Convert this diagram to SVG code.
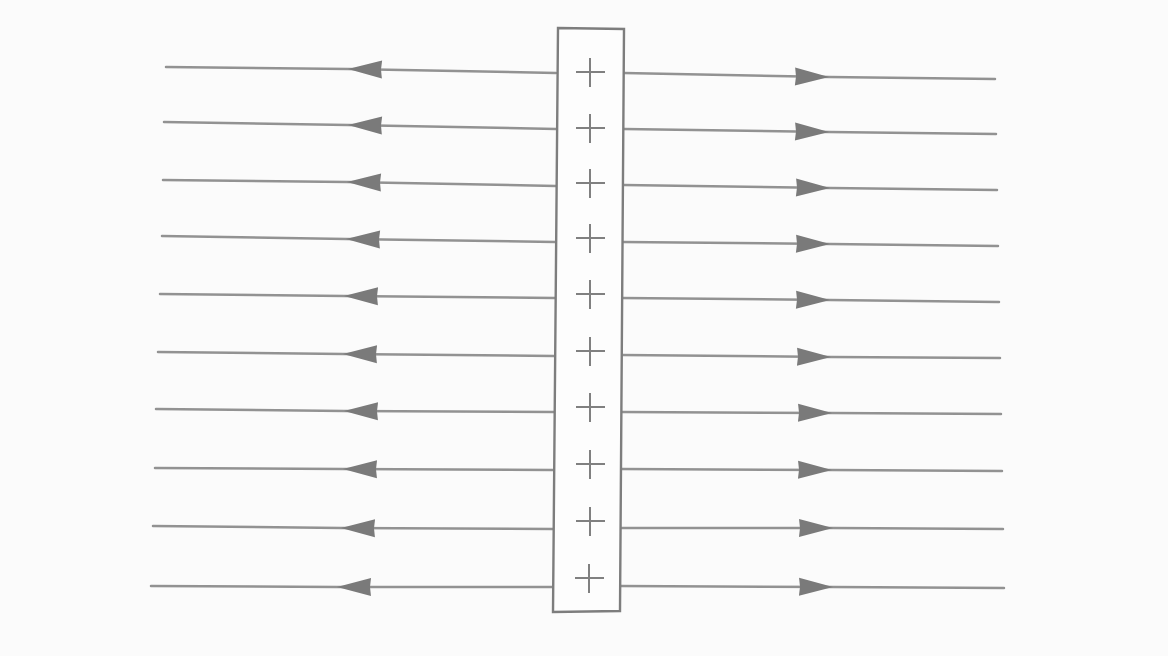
<svg xmlns="http://www.w3.org/2000/svg" width="1168" height="656" viewBox="0 0 1168 656">
<defs>
<style>
.fl{fill:none;stroke:#929292;stroke-width:2.5;stroke-linecap:round;marker-mid:url(#ah)}
.box{fill:#fdfdfd;stroke:#7d7d7d;stroke-width:2.4}
.plus{stroke:#808080;stroke-width:2;fill:none}
</style>
<marker id="ah" markerUnits="userSpaceOnUse" markerWidth="40" markerHeight="24" viewBox="-36 -12 40 24" refX="0" refY="0" orient="auto" overflow="visible">
<path d="M0,0 L-34,-9 L-33,0 L-34,9 Z" fill="#7a7a7a"/>
</marker>
</defs>
<rect width="1168" height="656" fill="#fbfbfb"/>
<g id="connectors">
<path class="fl" d="M556,73 L348,69 L166,67"/>
<path class="fl" d="M556,129 L348,125 L164,122"/>
<path class="fl" d="M556,186 L347,182 L163,180"/>
<path class="fl" d="M555,242 L346,239 L162,236"/>
<path class="fl" d="M555,298 L344,296 L160,294"/>
<path class="fl" d="M554,356 L343,354 L158,352"/>
<path class="fl" d="M554,412 L344,411 L156,409"/>
<path class="fl" d="M553,470 L343,469 L155,468"/>
<path class="fl" d="M553,529 L341,528 L153,526"/>
<path class="fl" d="M552,587 L337,587 L151,586"/>
<path class="fl" d="M624,73 L829,77 L995,79"/>
<path class="fl" d="M624,129 L829,132 L996,134"/>
<path class="fl" d="M624,185 L830,188 L997,190"/>
<path class="fl" d="M623,242 L830,244 L998,246"/>
<path class="fl" d="M622,298 L830,300 L999,302"/>
<path class="fl" d="M622,355 L831,357 L1000,358"/>
<path class="fl" d="M622,412 L832,413 L1001,414"/>
<path class="fl" d="M621,469 L832,470 L1002,471"/>
<path class="fl" d="M620,528 L833,528 L1003,529"/>
<path class="fl" d="M620,586 L833,587 L1004,588"/>
</g>
<g id="plate">
<path class="box" d="M558,28 L624,29 L620,611 L553,612 Z"/>
<g class="plus">
<path d="M576,72 H605 M590,58 V87"/>
<path d="M576,128 H605 M590,114 V143"/>
<path d="M576,183 H605 M590,169 V198"/>
<path d="M576,238 H605 M590,224 V253"/>
<path d="M576,294 H605 M590,280 V309"/>
<path d="M576,351 H605 M590,337 V366"/>
<path d="M576,407 H605 M590,393 V422"/>
<path d="M576,464 H605 M590,450 V479"/>
<path d="M576,521 H605 M590,507 V536"/>
<path d="M575,578 H604 M589,564 V593"/>
</g>
</g>
</svg>
